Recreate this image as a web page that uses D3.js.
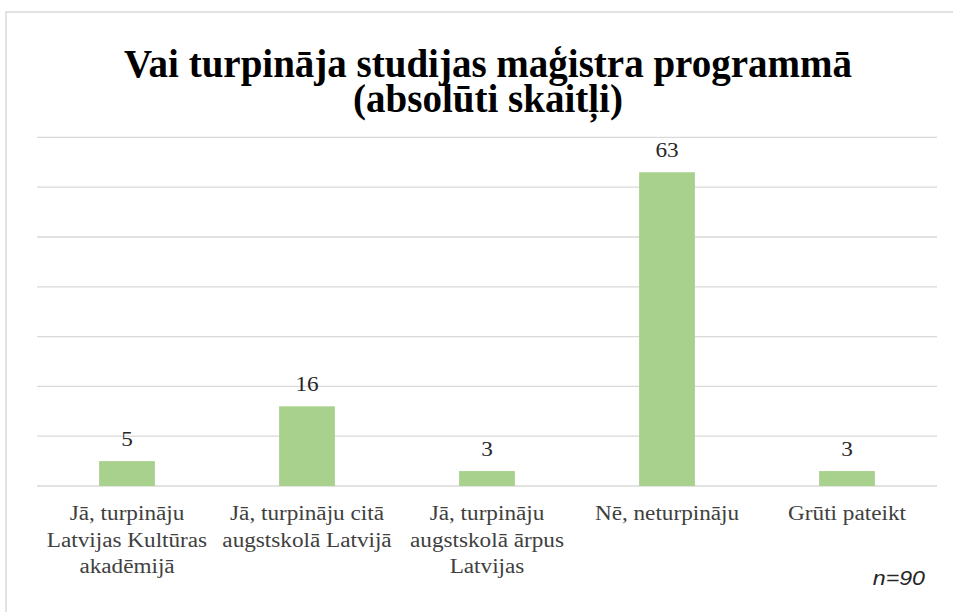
<!DOCTYPE html>
<html>
<head>
<meta charset="utf-8">
<script src="https://cdn.jsdelivr.net/npm/d3@7"></script>
</head>
<body style="margin:0">
<script>
const categories = [
  ["Jā, turpināju", "Latvijas Kultūras", "akadēmijā"],
  ["Jā, turpināju citā", "augstskolā Latvijā"],
  ["Jā, turpināju", "augstskolā ārpus", "Latvijas"],
  ["Nē, neturpināju"],
  ["Grūti pateikt"]
];
const values = [5, 16, 3, 63, 3];
const yTicks = [0, 10, 20, 30, 40, 50, 60, 70];
const titleLines = ["Vai turpināja studijas maģistra programmā", "(absolūti skaitļi)"];
const note = "n=90";

const width = 953;
const height = 612;
const serifFont = "Liberation Serif";
const sansFont = "Liberation Sans";

const svg = d3.select("body")
    .append("svg")
    .attr("width", width)
    .attr("height", height)
    .style("display", "block");

// chart frame (runs off the right/bottom edge)
svg.append("rect")
   .attr("x", 6)
   .attr("y", 12)
   .attr("width", 960)
   .attr("height", 620)
   .attr("fill", "none")
   .attr("stroke", "#d9d9d9")
   .attr("stroke-width", 1.5);

const x = d3.scaleBand()
            .domain(d3.range(categories.length))
            .range([37, 937])
            .paddingInner(0.69)
            .paddingOuter(0.345);

const y = d3.scaleLinear()
            .domain([0, 70])
            .range([486, 137.4]);

svg.selectAll("line.grid")
   .data(yTicks)
   .enter()
   .append("line")
   .attr("class", "grid")
   .attr("x1", 37)
   .attr("x2", 937)
   .attr("y1", d => y(d))
   .attr("y2", d => y(d))
   .attr("stroke", "#d9d9d9")
   .attr("stroke-width", 1.3);

svg.selectAll("rect.bar")
   .data(values)
   .enter()
   .append("rect")
   .attr("class", "bar")
   .attr("x", (d, i) => x(i))
   .attr("y", d => y(d))
   .attr("width", x.bandwidth())
   .attr("height", d => y(0) - y(d))
   .attr("fill", "#a9d18e");

const stretch = 1.16;

// texts sit straight under the svg, no <g> wrappers
svg.selectAll("text.title")
   .data(titleLines)
   .enter()
   .append("text")
   .attr("class", "title")
   .attr("font-family", serifFont)
   .style("font-family", `"${serifFont}"`)
   .attr("x", 488)
   .attr("y", (d, i) => 77 + i * 35)
   .attr("text-anchor", "middle")
   .attr("font-weight", "bold")
   .attr("font-size", 39)
   .attr("fill", "#000")
   .text(d => d);

svg.selectAll("text.value")
   .data(values)
   .enter()
   .append("text")
   .attr("class", "value")
   .attr("font-family", serifFont)
   .style("font-family", `"${serifFont}"`)
   .attr("transform", (d, i) => `translate(${x(i) + x.bandwidth() / 2}, ${y(d) - 15.5}) scale(${stretch}, 1)`)
   .attr("text-anchor", "middle")
   .attr("font-size", 20)
   .attr("fill", "#262626")
   .text(d => d);

const labelLines = categories.flatMap((lines, i) => lines.map((line, j) => ({ line, j, i })));

svg.selectAll("text.label")
   .data(labelLines)
   .enter()
   .append("text")
   .attr("class", "label")
   .attr("font-family", serifFont)
   .style("font-family", `"${serifFont}"`)
   .attr("transform", d => `translate(${x(d.i) + x.bandwidth() / 2}, ${520 + d.j * 26.5}) scale(${stretch}, 1)`)
   .attr("text-anchor", "middle")
   .attr("font-size", 20)
   .attr("fill", "#404040")
   .text(d => d.line);

svg.append("text")
   .attr("font-family", sansFont)
   .style("font-family", `"${sansFont}"`)
   .attr("transform", `translate(925, 585) scale(${stretch}, 1)`)
   .attr("text-anchor", "end")
   .attr("font-style", "italic")
   .attr("font-size", 20)
   .attr("fill", "#262626")
   .text(note);
</script>
</body>
</html>
